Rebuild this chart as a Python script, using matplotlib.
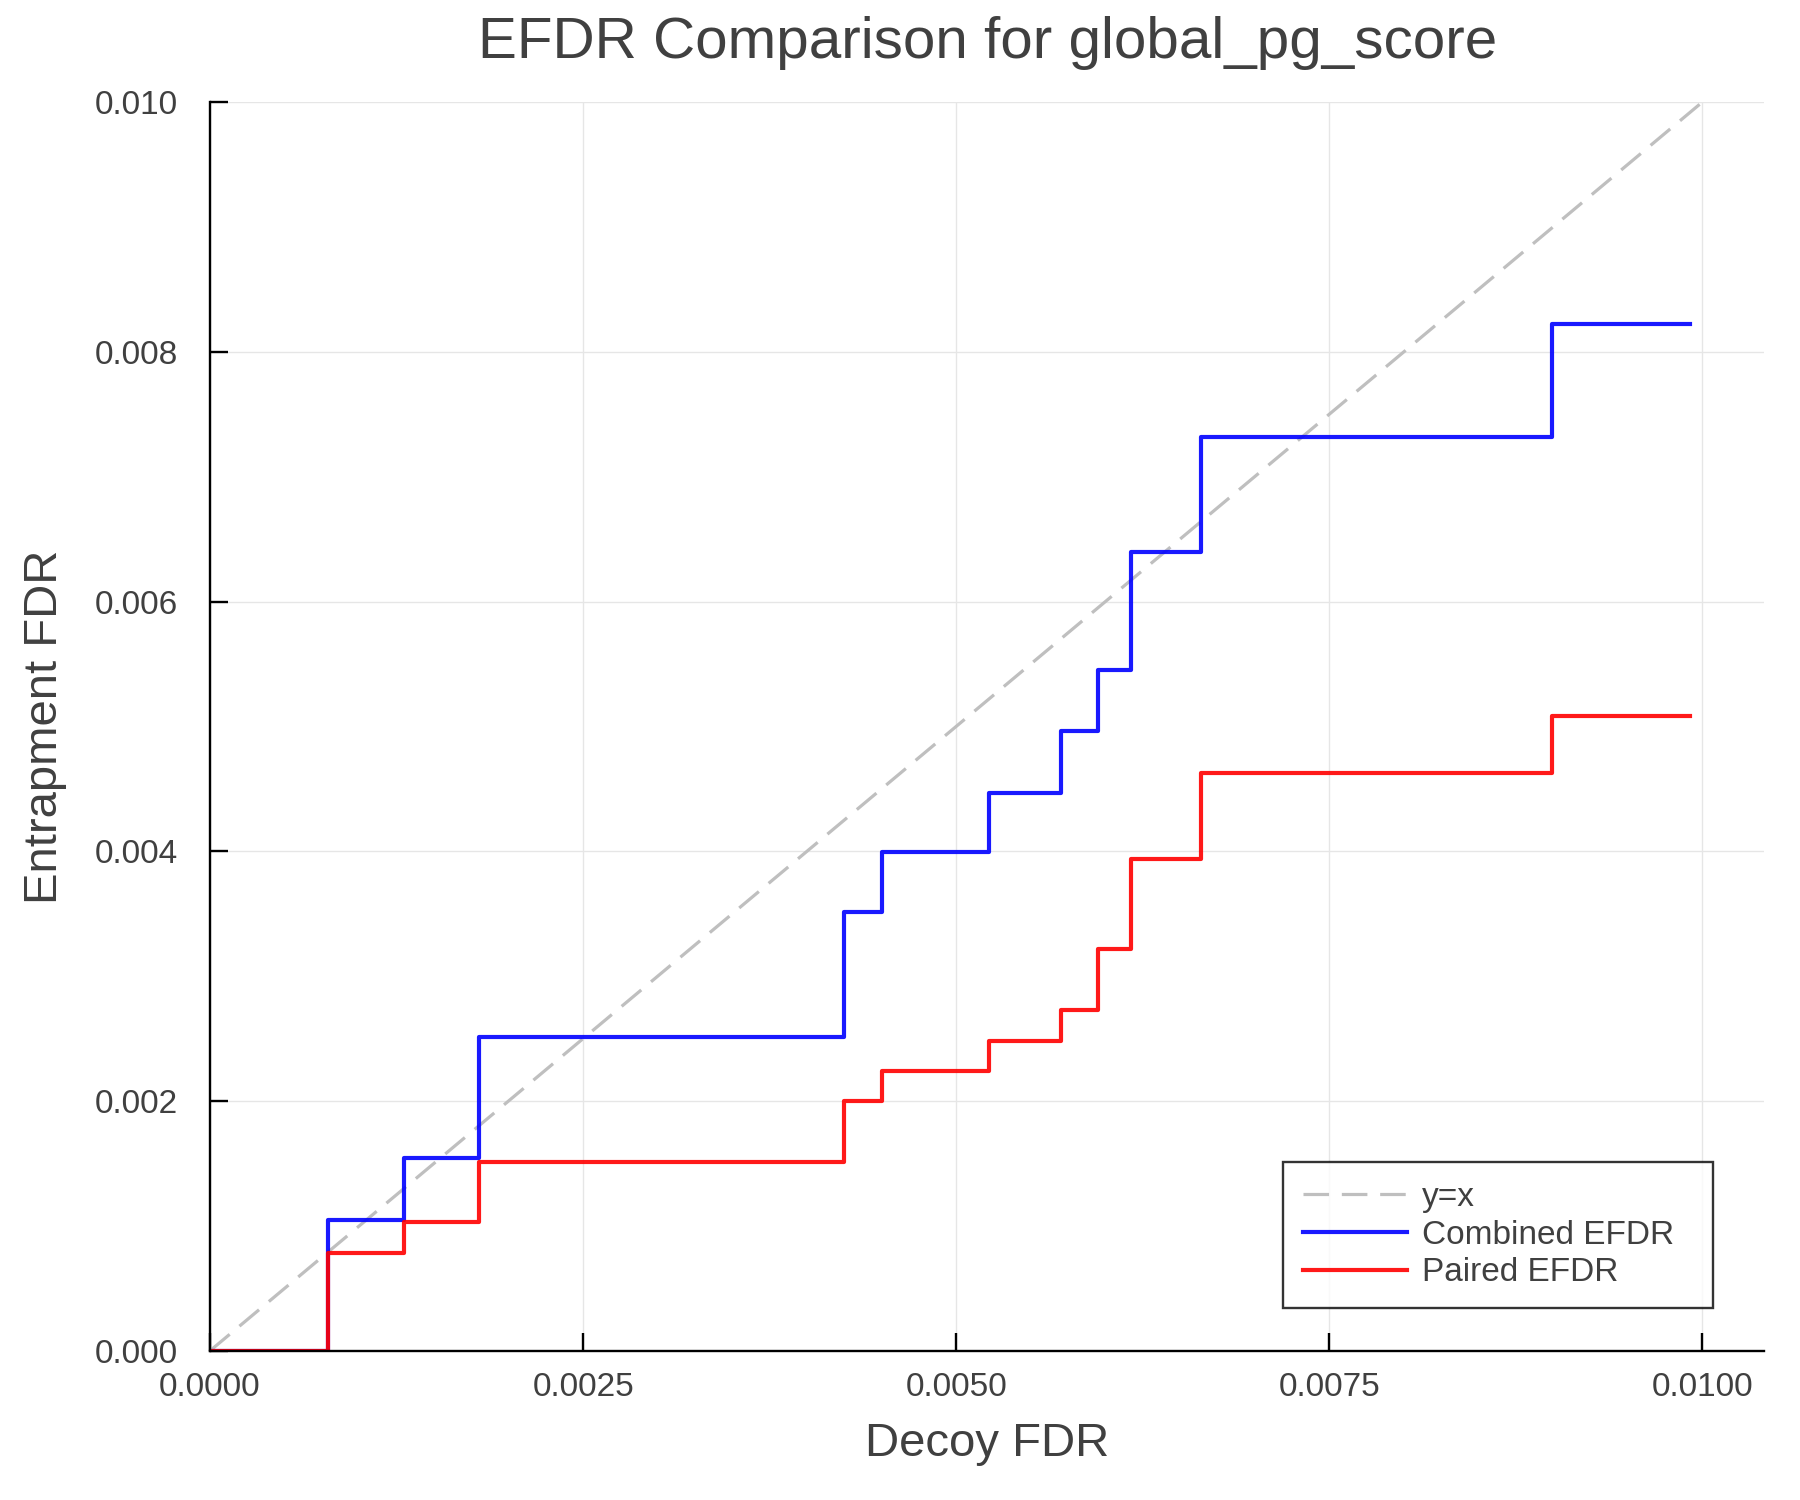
import matplotlib.pyplot as plt

# step data (decoy FDR at each step, entrapment FDR after the step)
decoy_fdr = [0.0, 0.00079, 0.0013, 0.0018, 0.00425, 0.0045, 0.00522, 0.0057, 0.00595, 0.00617, 0.00664, 0.00899, 0.00992]
combined_efdr = [0.0, 0.00105, 0.00154, 0.00251, 0.00351, 0.00399, 0.00447, 0.00496, 0.00545, 0.00640, 0.00732, 0.00822, 0.00822]
paired_efdr = [0.0, 0.00078, 0.00103, 0.00151, 0.00200, 0.00224, 0.00248, 0.00273, 0.00322, 0.00394, 0.00463, 0.00508, 0.00508]

diag = [0.0, 0.01]

txt = '#404040'
plt.rcParams['font.family'] = ['Liberation Sans', 'DejaVu Sans']

fig = plt.figure(figsize=(18, 15), dpi=100)
ax = fig.add_axes([0.1167, 0.0995, 0.8635, 0.8325])

ax.plot(diag, diag, color='#bfbfbf', lw=2.3, dashes=(8, 4), label='y=x')
ax.step(decoy_fdr, combined_efdr, where='post', color='#0000ff', lw=3.0, alpha=0.9, label='Combined EFDR')
ax.step(decoy_fdr, paired_efdr, where='post', color='#ff0000', lw=3.0, alpha=0.9, label='Paired EFDR')

ax.set_xlim(0, 0.010415)
ax.set_ylim(0, 0.010)
ax.set_xticks([0.0, 0.0025, 0.005, 0.0075, 0.01])
ax.set_xticklabels(['0.0000', '0.0025', '0.0050', '0.0075', '0.0100'])
ax.set_yticks([0.0, 0.002, 0.004, 0.006, 0.008, 0.010])
ax.set_yticklabels(['0.000', '0.002', '0.004', '0.006', '0.008', '0.010'])

ax.grid(True, color='#e6e6e6', lw=1.0)
ax.set_axisbelow(True)
for s in ['top', 'right']:
    ax.spines[s].set_visible(False)
for s in ['left', 'bottom']:
    ax.spines[s].set_linewidth(1.7)
    ax.spines[s].set_color('black')
ax.tick_params(direction='in', length=13, width=1.7, colors='black', labelcolor=txt, labelsize=24)
ax.tick_params(axis='x', pad=15)
ax.tick_params(axis='y', pad=23)

ax.set_title('EFDR Comparison for global_pg_score', fontsize=42, color=txt, pad=32)
ax.set_xlabel('Decoy FDR', fontsize=34, color=txt, labelpad=14)
ax.set_ylabel('Entrapment FDR', fontsize=34, color=txt, labelpad=20)

leg = ax.legend(loc='lower left', bbox_to_anchor=(0.6906, 0.034, 0.2762, 0.12), mode='expand',
                fontsize=24, frameon=True, fancybox=False, edgecolor='black', handlelength=3.1,
                labelspacing=0.2, borderpad=0.6, handletextpad=0.45, borderaxespad=0)
leg.get_frame().set_linewidth(1.7)
for t in leg.get_texts():
    t.set_color(txt)

fig.savefig('out.png', dpi=100)
